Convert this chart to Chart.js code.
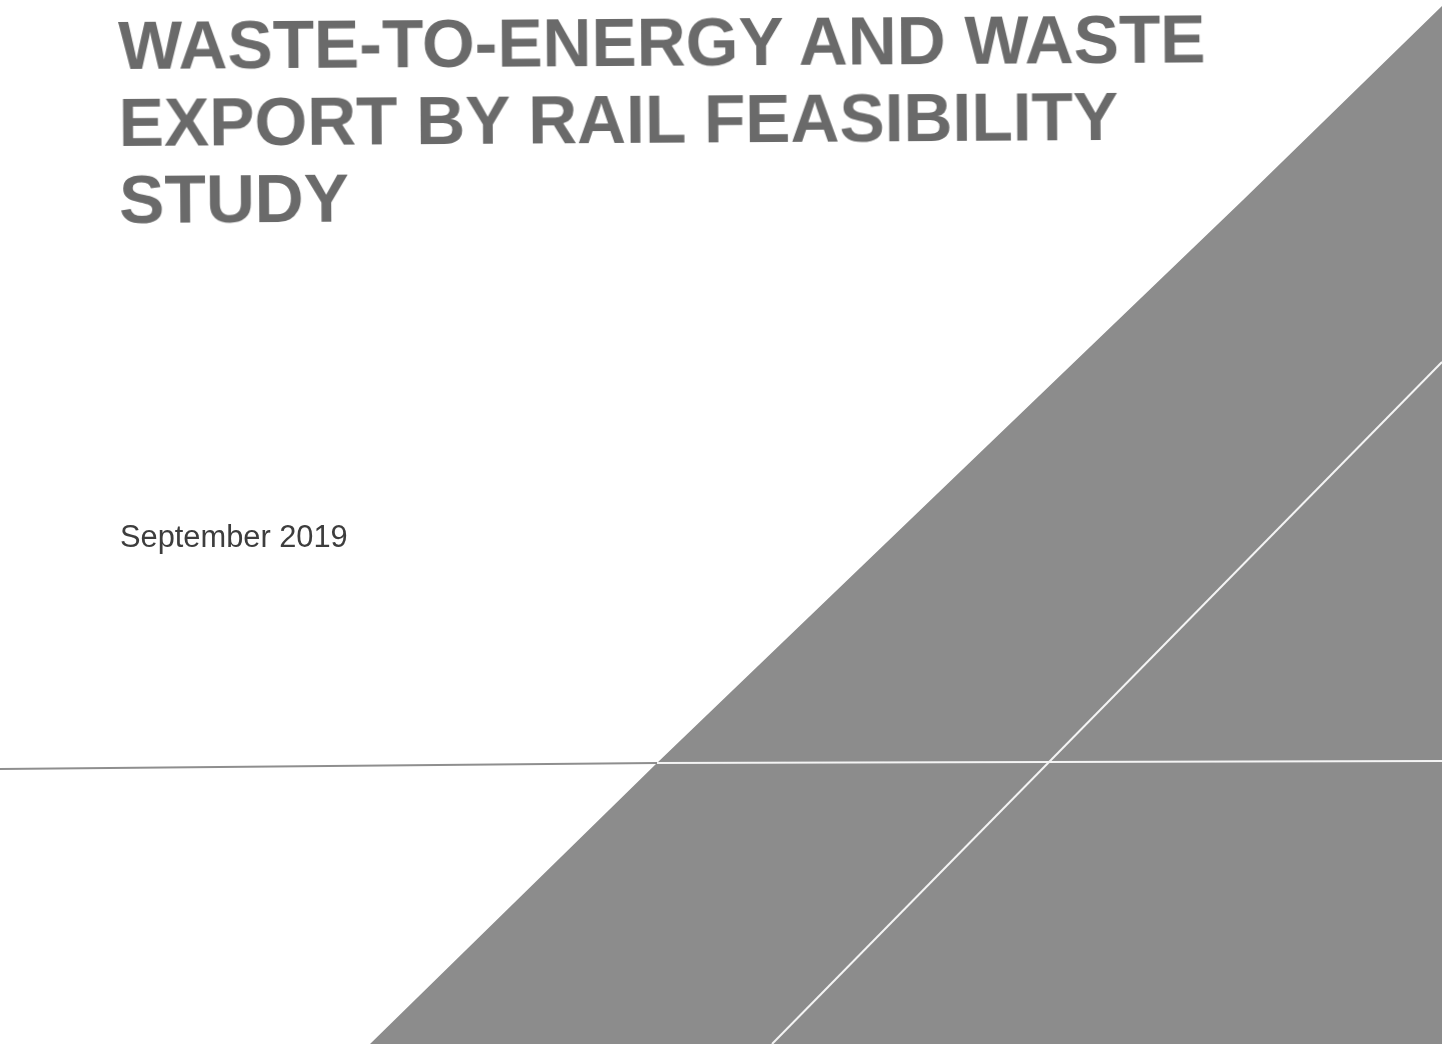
<!DOCTYPE html>
<html>
<head>
<meta charset="utf-8">
<script src="https://cdn.jsdelivr.net/npm/chart.js@4/dist/chart.umd.min.js"></script>
<style>
  html, body { margin: 0; padding: 0; background: #ffffff; }
  #wrap { position: relative; width: 1446px; height: 1047px; overflow: hidden; }
  #c { position: absolute; left: 0; top: 0; }
  .title {
    position: absolute; left: 118px; top: 7px;
    font-family: "Liberation Sans", Arial, sans-serif; font-weight: bold;
    font-size: 67.8px; line-height: 77px; color: #6a6a6a;
    transform: rotate(-0.35deg); transform-origin: 0 0;
    white-space: nowrap;
  }
  .date {
    position: absolute; left: 120px; top: 520px;
    font-family: "Liberation Sans", Arial, sans-serif;
    font-size: 30.8px; line-height: 34px; color: #3d3d3d; white-space: nowrap;
  }
</style>
</head>
<body>
<div id="wrap">
  <canvas id="c" width="1446" height="1047"></canvas>
  <div class="title">WASTE-TO-ENERGY AND WASTE<br>EXPORT BY RAIL FEASIBILITY<br>STUDY</div>
  <div class="date">September 2019</div>
</div>
<script>
// Page extents (scale units)
const pageX = [0, 1446];
const pageY = [0, 1047];
// Grey triangle: hypotenuse points, filled down to the base
const triangleX = [370, 657, 1243, 1442];
const triangleY = [1044, 763, 200, 6];
const triangleBase = 1044;
// Thin rule on the white part
const ruleLeftX = [0, 657];
const ruleLeftY = [769, 763];
// White rule across the triangle
const ruleWhiteX = [657, 1442];
const ruleWhiteY = [763, 761];
// White diagonal
const diagX = [772, 1442];
const diagY = [1044, 362];

const pts = (xs, ys) => xs.map((x, i) => ({ x: x, y: ys[i] }));

new Chart(document.getElementById('c'), {
  type: 'line',
  data: {
    datasets: [
      { data: pts(ruleLeftX, ruleLeftY), borderColor: '#8e8e8e', borderWidth: 2, pointRadius: 0, fill: false, tension: 0 },
      { data: pts(ruleWhiteX, ruleWhiteY), borderColor: '#f4f4f4', borderWidth: 2, pointRadius: 0, fill: false, tension: 0 },
      { data: pts(diagX, diagY), borderColor: '#f4f4f4', borderWidth: 2, pointRadius: 0, fill: false, tension: 0 },
      { data: pts(triangleX, triangleY), borderColor: '#8c8c8c', borderWidth: 0, backgroundColor: '#8c8c8c', pointRadius: 0, tension: 0, fill: { value: triangleBase } }
    ]
  },
  options: {
    responsive: false,
    animation: false,
    events: [],
    layout: { padding: 0 },
    plugins: { legend: { display: false }, tooltip: { enabled: false }, title: { display: false } },
    scales: {
      x: { type: 'linear', display: false, min: pageX[0], max: pageX[1] },
      y: { type: 'linear', display: false, min: pageY[0], max: pageY[1], reverse: true }
    }
  }
});
</script>
</body>
</html>
